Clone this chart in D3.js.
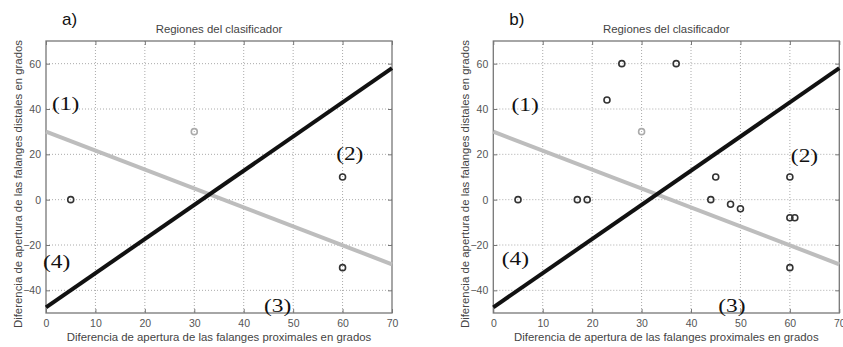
<!DOCTYPE html>
<html>
<head>
<meta charset="utf-8">
<style>
  body { margin: 0; background: #fff; }
  svg { display: block; }
  .tick text { font-family: 'Liberation Sans', Arial, sans-serif; font-size: 10.5px; fill: #555; }
  .lbl { font-family: 'Liberation Sans', Arial, sans-serif; font-size: 11.4px; fill: #444; }
  .region { font-family: 'Liberation Serif', 'Times New Roman', serif; font-size: 18px; fill: #111; }
  .panel { font-family: 'Liberation Sans', Arial, sans-serif; font-size: 17px; fill: #111; }
</style>
</head>
<body>
<svg width="843" height="347"></svg>
<script src="https://cdnjs.cloudflare.com/ajax/libs/d3/7.8.5/d3.min.js"></script>
<script>
// axis setup
var xTicks = [0, 10, 20, 30, 40, 50, 60, 70];
var yTicks = [-40, -20, 0, 20, 40, 60];
var xDomain = [0, 70];
var yDomain = [-50, 70];

// decision boundaries (same in both panels)
var blackLine = [[0, -47.5], [70, 58]];
var grayLine = [[0, 30], [70, -28.5]];

// samples, panel a
var aX = [5, 30, 60, 60];
var aY = [0, 30, 10, -30];
var aLight = [false, true, false, false];

// samples, panel b
var bX = [5, 17, 19, 23, 26, 37, 30, 44, 45, 48, 50, 60, 60, 61, 60];
var bY = [0, 0, 0, 44, 60, 60, 30, 0, 10, -2, -4, 10, -8, -8, -30];
var bLight = [false, false, false, false, false, false, true, false, false, false, false, false, false, false, false];

// region labels (data coords of text baseline start)
var regionText = ["(1)", "(2)", "(3)", "(4)"];
var regionA = [[1.2, 39.5], [58.7, 17.5], [44.1, -49.5], [-0.6, -30]];
var regionB = [[3.7, 39], [60.2, 16.7], [45.5, -49.5], [1.7, -29]];

var title = "Regiones del clasificador";
var xLabel = "Diferencia de apertura de las falanges proximales en grados";
var yLabel = "Diferencia de apertura de las falanges distales en grados";

var svg = d3.select("svg");

function panel(left, name, px, py, plight, regions) {
  var w = 346, top = 41, h = 272;
  var x = d3.scaleLinear().domain(xDomain).range([left, left + w]);
  var y = d3.scaleLinear().domain(yDomain).range([top + h, top]);
  var g = svg.append("g");

  // grid
  g.append("g").selectAll("line").data(xTicks.slice(1, -1)).enter().append("line")
    .attr("x1", function(d) { return x(d); }).attr("x2", function(d) { return x(d); })
    .attr("y1", top).attr("y2", top + h)
    .attr("stroke", "#aaa").attr("stroke-width", 1).attr("stroke-dasharray", "1,2");
  g.append("g").selectAll("line").data(yTicks).enter().append("line")
    .attr("y1", function(d) { return y(d); }).attr("y2", function(d) { return y(d); })
    .attr("x1", left).attr("x2", left + w)
    .attr("stroke", "#aaa").attr("stroke-width", 1).attr("stroke-dasharray", "1,2");

  // axes
  g.append("g").attr("transform", "translate(0," + (top + h) + ")")
    .call(d3.axisBottom(x).tickValues(xTicks).tickSize(-4).tickPadding(7));
  g.append("g").attr("transform", "translate(" + left + ",0)")
    .call(d3.axisLeft(y).tickValues(yTicks).tickSize(-4).tickPadding(5));
  g.append("g").attr("transform", "translate(0," + top + ")")
    .call(d3.axisTop(x).tickValues(xTicks).tickSize(-4).tickFormat(""));
  g.append("g").attr("transform", "translate(" + (left + w) + ",0)")
    .call(d3.axisRight(y).tickValues(yTicks).tickSize(-4).tickFormat(""));
  g.selectAll(".domain").remove();
  g.selectAll(".tick line").attr("stroke", "#777");
  g.append("rect").attr("x", left).attr("y", top).attr("width", w).attr("height", h)
    .attr("fill", "none").attr("stroke", "#777").attr("stroke-width", 1.3);

  // boundaries
  var line = d3.line().x(function(d) { return x(d[0]); }).y(function(d) { return y(d[1]); });
  g.append("path").datum(grayLine).attr("d", line)
    .attr("stroke", "#bdbdbd").attr("stroke-width", 4).attr("fill", "none");
  g.append("path").datum(blackLine).attr("d", line)
    .attr("stroke", "#111").attr("stroke-width", 4).attr("fill", "none");

  // samples
  g.append("g").selectAll("circle").data(px).enter().append("circle")
    .attr("cx", function(d) { return x(d); })
    .attr("cy", function(d, i) { return y(py[i]); })
    .attr("r", 3)
    .attr("fill", "none")
    .attr("stroke", function(d, i) { return plight[i] ? "#aaa" : "#333"; })
    .attr("stroke-width", 1.6);

  // region labels, a little wider than plain Times
  g.append("g").selectAll("text").data(regions).enter().append("text")
    .attr("class", "region")
    .attr("transform", function(d) { return "translate(" + x(d[0]) + "," + y(d[1]) + ") scale(1.3,1)"; })
    .text(function(d, i) { return regionText[i]; });

  // titles
  g.append("text").attr("class", "lbl").attr("text-anchor", "middle")
    .attr("x", left + w / 2).attr("y", 33).text(title);
  g.append("text").attr("class", "lbl").attr("text-anchor", "middle")
    .attr("x", left + w / 2).attr("y", 341).text(xLabel);
  g.append("text").attr("class", "lbl").attr("text-anchor", "middle")
    .attr("transform", "translate(" + (left - 24) + ",184) rotate(-90)")
    .text(yLabel);
  g.append("text").attr("class", "panel").attr("x", left + 16).attr("y", 25).text(name);
}

panel(46, "a)", aX, aY, aLight, regionA);
panel(493.3, "b)", bX, bY, bLight, regionB);
</script>
</body>
</html>
